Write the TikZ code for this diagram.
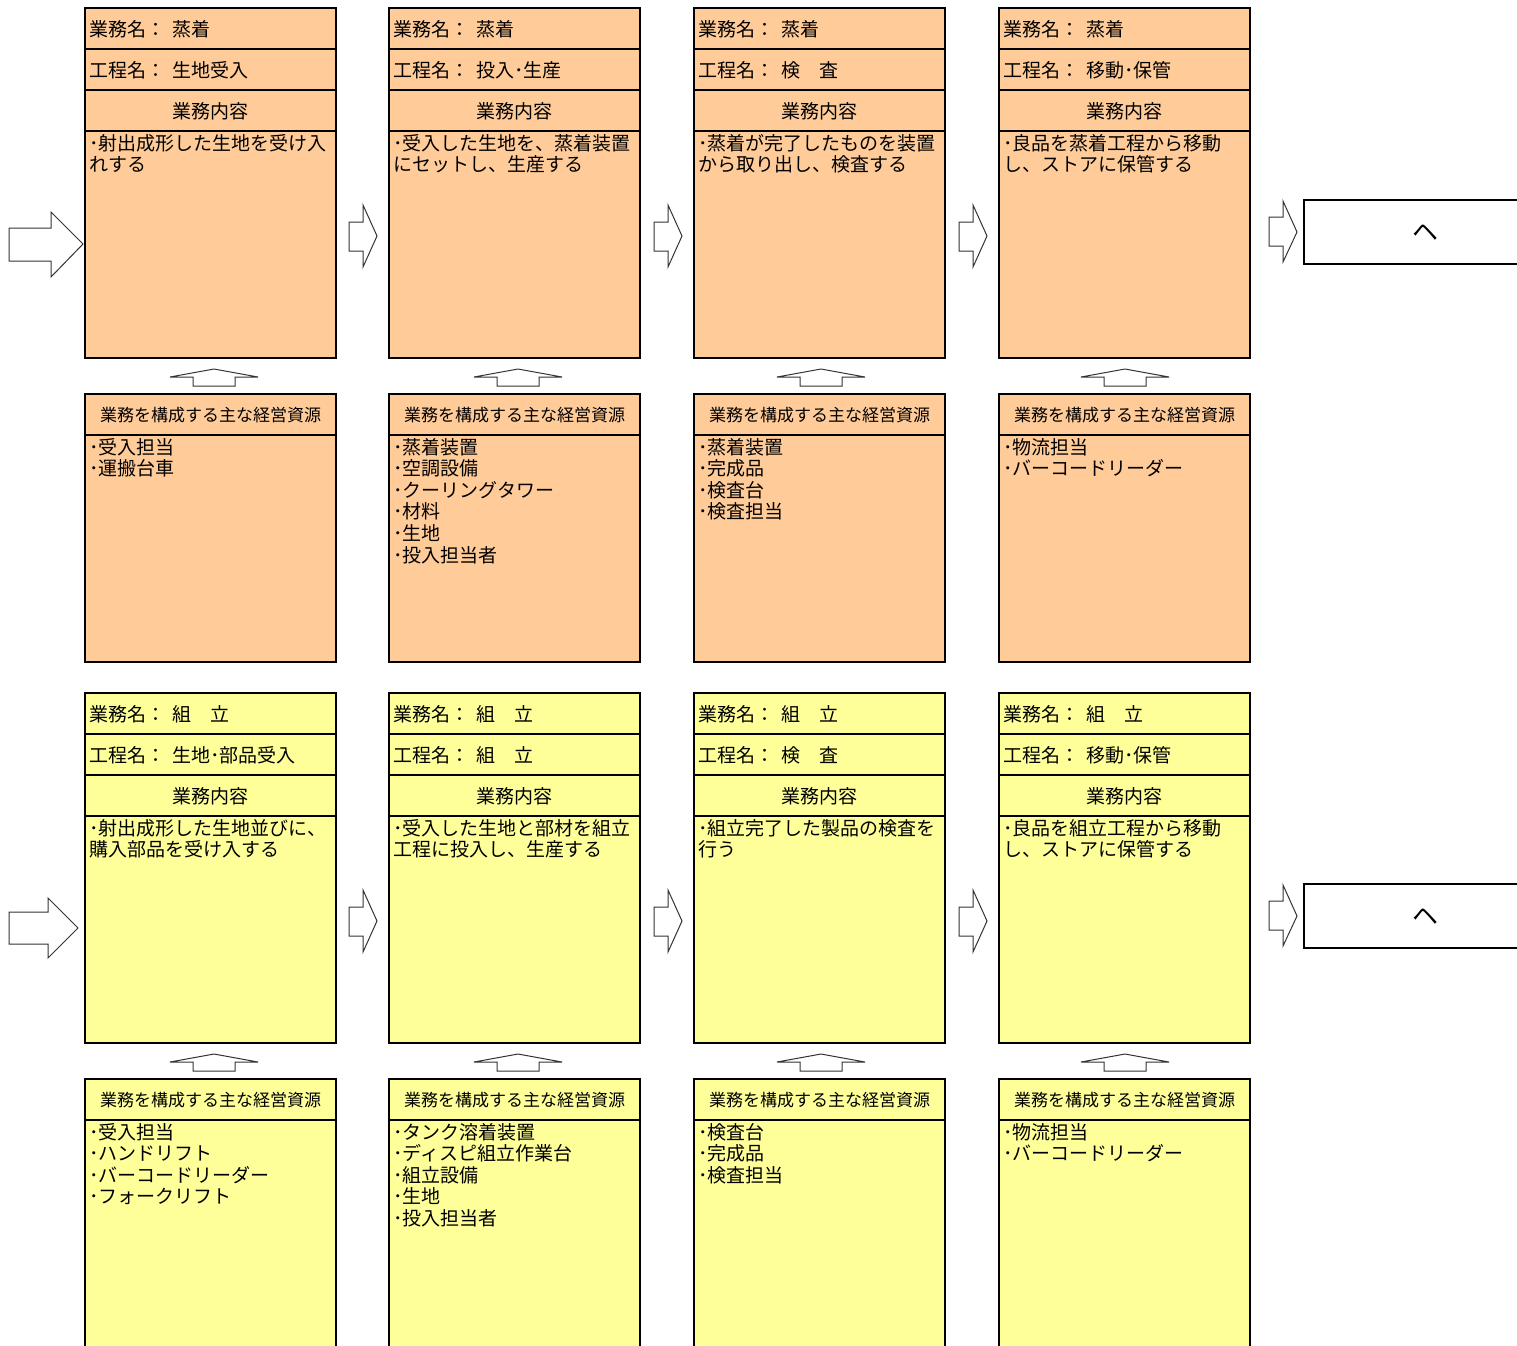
\documentclass[tikz,border=0pt]{standalone}
\usepackage{fontspec}
\setmainfont{Noto Sans CJK JP}
\definecolor{boxorange}{HTML}{FFCC99}
\definecolor{boxyellow}{HTML}{FFFF99}
\definecolor{arrowline}{HTML}{333333}
\tikzset{
  boxline/.style={draw=black,line width=1.2pt},
  txt/.style={anchor=base west,inner sep=0pt,font=\fontsize{19}{21.6}\selectfont},
  ctxt/.style={anchor=base,inner sep=0pt,font=\fontsize{19}{21.6}\selectfont},
  htxt/.style={anchor=base,inner sep=0pt,font=\fontsize{17}{20}\selectfont},
  endtxt/.style={inner sep=0pt,font=\fontsize{26}{28}\selectfont},
  blockarrow/.style={draw=arrowline,fill=white,line width=1pt,line join=miter},
}
% #1 name, #2 x, #3 y offset, #4 fill, #5 gyomu, #6 kotei, #7 content lines, #8 resources
\newcommand\procol[8]{%
  \begin{scope}[shift={(#2,#3)}]
    \draw[boxline,fill=#4] (0,8) rectangle (251,358);
    \draw[boxline] (0,49) -- (251,49) (0,90) -- (251,90) (0,131) -- (251,131);
    \node[txt] (#1-gl) at (4,36) {業務名：};
    \node[txt] (#1-gv) at (87,36) {#5};
    \node[txt] (#1-kl) at (4,77) {工程名：};
    \node[txt] (#1-kv) at (87,77) {#6};
    \node[ctxt] (#1-nh) at (125.5,118) {業務内容};
    \foreach \itm [count=\i] in {#7} {\node[txt] (#1-c\i) at (4,{150+21.6*(\i-1)}) {\itm};}
    \draw[boxline,fill=#4] (0,394) rectangle (251,662);
    \draw[boxline] (0,435) -- (251,435);
    \node[htxt] (#1-rh) at (125.5,421) {業務を構成する主な経営資源};
    \foreach \itm [count=\i] in {#8} {\node[txt] (#1-r\i) at (4,{454+21.6*(\i-1)}) {･\itm};}
  \end{scope}}
% small right arrow at x #1, y offset #2
\newcommand\smallarrow[2]{%
  \draw[blockarrow,shift={(#1,#2)}] (0,222) -- (14,222) -- (14,205) -- (28,236) -- (14,267) -- (14,251) -- (0,251) -- cycle;}
% up arrow at center #1, y offset #2
\newcommand\uparrowshape[2]{%
  \draw[blockarrow,shift={(#1,#2)}] (0,369) -- (44,377) -- (21,377) -- (21,386) -- (-21,386) -- (-21,377) -- (-44,377) -- cycle;}
\begin{document}
\begin{tikzpicture}[x=1pt,y=-1pt]
\useasboundingbox (0,0) rectangle (1517,1345);
% ---------- orange row ----------
\procol{o1}{85}{0}{boxorange}{蒸着}{生地受入}{･射出成形した生地を受け入,れする}{受入担当,運搬台車}
\procol{o2}{389}{0}{boxorange}{蒸着}{投入･生産}{･受入した生地を、蒸着装置,にセットし、生産する}{蒸着装置,空調設備,クーリングタワー,材料,生地,投入担当者}
\procol{o3}{694}{0}{boxorange}{蒸着}{検　査}{･蒸着が完了したものを装置,から取り出し、検査する}{蒸着装置,完成品,検査台,検査担当}
\procol{o4}{999}{0}{boxorange}{蒸着}{移動･保管}{･良品を蒸着工程から移動,し、ストアに保管する}{物流担当,バーコードリーダー}
% ---------- yellow row ----------
\procol{y1}{85}{685}{boxyellow}{組　立}{生地･部品受入}{･射出成形した生地並びに、,購入部品を受け入する}{受入担当,ハンドリフト,バーコードリーダー,フォークリフト}
\procol{y2}{389}{685}{boxyellow}{組　立}{組　立}{･受入した生地と部材を組立,工程に投入し、生産する}{タンク溶着装置,ディスピ組立作業台,組立設備,生地,投入担当者}
\procol{y3}{694}{685}{boxyellow}{組　立}{検　査}{･組立完了した製品の検査を,行う}{検査台,完成品,検査担当}
\procol{y4}{999}{685}{boxyellow}{組　立}{移動･保管}{･良品を組立工程から移動,し、ストアに保管する}{物流担当,バーコードリーダー}
% ---------- big entry arrows ----------
\draw[blockarrow] (9,228) -- (51,228) -- (51,212) -- (83,244) -- (51,277) -- (51,261) -- (9,261) -- cycle;
\draw[blockarrow] (9,912) -- (48,912) -- (48,898) -- (78,928) -- (48,958) -- (48,944) -- (9,944) -- cycle;
% ---------- small arrows ----------
\foreach \xx in {349,654,959} {\smallarrow{\xx}{0}\smallarrow{\xx}{685}}
\draw[blockarrow] (1269,217) -- (1283,217) -- (1283,201) -- (1297,232) -- (1283,262) -- (1283,246) -- (1269,246) -- cycle;
\draw[blockarrow] (1269,901) -- (1283,901) -- (1283,885) -- (1297,916) -- (1283,946) -- (1283,930) -- (1269,930) -- cycle;
% ---------- up arrows ----------
\foreach \cx in {214,518,821,1125} {\uparrowshape{\cx}{0}\uparrowshape{\cx}{685}}
% ---------- right-end boxes ----------
\draw[boxline,fill=white] (1304,200) rectangle (1530,264);
\node[endtxt] (o-end) at (1425,233) {ヘ};
\draw[boxline,fill=white] (1304,884) rectangle (1530,948);
\node[endtxt] (y-end) at (1425,917) {ヘ};
\end{tikzpicture}
\end{document}
